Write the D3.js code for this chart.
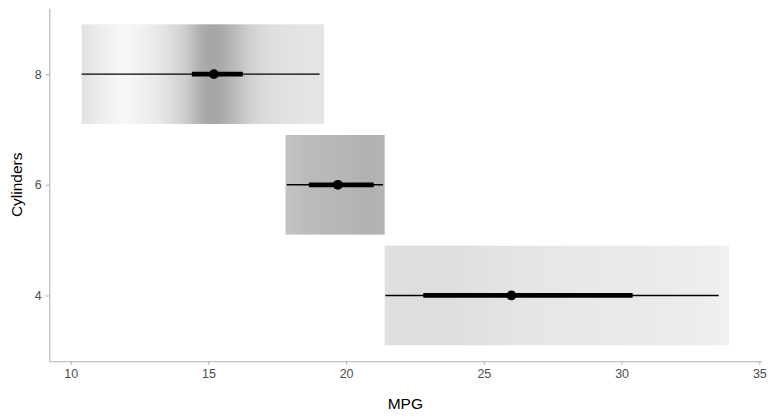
<!DOCTYPE html>
<html>
<head>
<meta charset="utf-8">
<script src="https://cdn.jsdelivr.net/npm/d3@7"></script>
<style>
  body { margin: 0; background: #fff; }
  text { font-family: "Liberation Sans", Arial, sans-serif; }
</style>
</head>
<body>
<div id="chart"></div>
<script>
// mtcars mpg per cylinder group
const cylinders = [4, 6, 8];
const mpg4 = [22.8, 24.4, 22.8, 32.4, 30.4, 33.9, 21.5, 27.3, 26.0, 30.4, 21.4];
const mpg6 = [21.0, 21.0, 21.4, 18.1, 19.2, 17.8, 19.7];
const mpg8 = [18.7, 14.3, 16.4, 17.3, 15.2, 10.4, 10.4, 14.7, 15.5, 15.2, 13.3, 19.2, 15.8, 15.0];

// slab gradient stops: [mpg, grey level]
const shade4 = [[21.4, 224], [22.5, 222], [23.5, 222], [24.5, 224], [25.5, 227], [27, 230],
                [28.5, 232], [30, 233], [31.5, 235], [32.8, 237], [33.9, 240]];
const shade6 = [[17.8, 196], [18.5, 188], [19.2, 184], [19.9, 182], [20.6, 178], [21.0, 178], [21.4, 180]];
const shade8 = [[10.4, 225], [11.0, 236], [11.9, 248], [12.7, 239], [13.3, 230], [13.8, 216],
                [14.2, 204], [14.5, 186], [14.8, 172], [15.1, 166], [15.4, 168], [15.9, 184],
                [16.5, 208], [17.1, 220], [17.9, 226], [18.5, 228], [19.2, 228]];

const xTicks = [10, 15, 20, 25, 30, 35];
const yTicks = [4, 6, 8];

const groups = [
  { cyl: 4, mpg: mpg4, shade: shade4 },
  { cyl: 6, mpg: mpg6, shade: shade6 },
  { cyl: 8, mpg: mpg8, shade: shade8 }
];

const width = 770, height = 418;
const marginLeft = 49.3, marginRight = 8.6, marginTop = 8.3, marginBottom = 56.7;
const slabHalf = 0.9;
const axisColor = "#b3b3b3", labelColor = "#4d4d4d";

const allMpg = d3.merge(groups.map(g => g.mpg));
const xExt = d3.extent(allMpg);
const xPad = (xExt[1] - xExt[0]) * 0.05;
const yExt = [d3.min(cylinders) - slabHalf, d3.max(cylinders) + slabHalf];
const yPad = (yExt[1] - yExt[0]) * 0.05;

const x = d3.scaleLinear([xExt[0] - xPad, xExt[1] + xPad], [marginLeft, width - marginRight]);
const y = d3.scaleLinear([yExt[0] - yPad, yExt[1] + yPad], [height - marginBottom, marginTop]);

const svg = d3.select("#chart").append("svg")
  .attr("width", width)
  .attr("height", height)
  .attr("viewBox", [0, 0, width, height]);

svg.append("rect").attr("width", width).attr("height", height).attr("fill", "#fff");

const defs = svg.append("defs");

groups.forEach(g => {
  const ext = d3.extent(g.mpg);
  g.lo = ext[0];
  g.hi = ext[1];
  g.q = p => d3.quantile(g.mpg, p);
  const grad = defs.append("linearGradient")
    .attr("id", "slab" + g.cyl)
    .attr("gradientUnits", "userSpaceOnUse")
    .attr("x1", x(g.lo)).attr("x2", x(g.hi))
    .attr("y1", 0).attr("y2", 0);
  grad.selectAll("stop")
    .data(g.shade)
    .join("stop")
    .attr("offset", d => (d[0] - g.lo) / (g.hi - g.lo))
    .attr("stop-color", d => d3.rgb(d[1], d[1], d[1]).formatHex());
});

// slabs
svg.append("g")
  .selectAll("rect")
  .data(groups)
  .join("rect")
  .attr("x", d => x(d.lo))
  .attr("width", d => x(d.hi) - x(d.lo))
  .attr("y", d => y(d.cyl + slabHalf))
  .attr("height", d => y(d.cyl - slabHalf) - y(d.cyl + slabHalf))
  .attr("fill", d => `url(#slab${d.cyl})`);

// intervals: 95% thin, 50% thick, median point
const iv = svg.append("g");
iv.selectAll("line.thin")
  .data(groups)
  .join("line")
  .attr("class", "thin")
  .attr("x1", d => x(d.q(0.025))).attr("x2", d => x(d.q(0.975)))
  .attr("y1", d => y(d.cyl)).attr("y2", d => y(d.cyl))
  .attr("stroke", "#000").attr("stroke-width", 1.4);
iv.selectAll("line.thick")
  .data(groups)
  .join("line")
  .attr("class", "thick")
  .attr("x1", d => x(d.q(0.25))).attr("x2", d => x(d.q(0.75)))
  .attr("y1", d => y(d.cyl)).attr("y2", d => y(d.cyl))
  .attr("stroke", "#000").attr("stroke-width", 4.8);
iv.selectAll("circle")
  .data(groups)
  .join("circle")
  .attr("cx", d => x(d.q(0.5)))
  .attr("cy", d => y(d.cyl))
  .attr("r", 4.9)
  .attr("fill", "#000");

// axes
const xAxis = d3.axisBottom(x).tickValues(xTicks).tickSize(3.5).tickSizeOuter(0).tickPadding(4);
const yAxis = d3.axisLeft(y).tickValues(yTicks).tickFormat(d3.format("d"))
  .tickSize(3.5).tickSizeOuter(0).tickPadding(4);

const styleAxis = g => {
  g.select(".domain").attr("stroke", axisColor).attr("stroke-width", 1.1);
  g.selectAll(".tick line").attr("stroke", axisColor).attr("stroke-width", 1.1);
  g.selectAll(".tick text").attr("fill", labelColor).attr("font-size", 12.5)
    .attr("font-family", "Liberation Sans, Arial, sans-serif");
};

svg.append("g")
  .attr("transform", `translate(0,${height - marginBottom})`)
  .call(xAxis)
  .call(styleAxis);

svg.append("g")
  .attr("transform", `translate(${marginLeft},0)`)
  .call(yAxis)
  .call(styleAxis);

// axis titles
svg.append("text")
  .attr("x", (marginLeft + width - marginRight) / 2)
  .attr("y", 409)
  .attr("text-anchor", "middle")
  .attr("font-size", 15.5)
  .attr("fill", "#000")
  .text("MPG");

svg.append("text")
  .attr("transform", `translate(22,${(marginTop + height - marginBottom) / 2}) rotate(-90)`)
  .attr("text-anchor", "middle")
  .attr("font-size", 15.5)
  .attr("fill", "#000")
  .text("Cylinders");
</script>
</body>
</html>
